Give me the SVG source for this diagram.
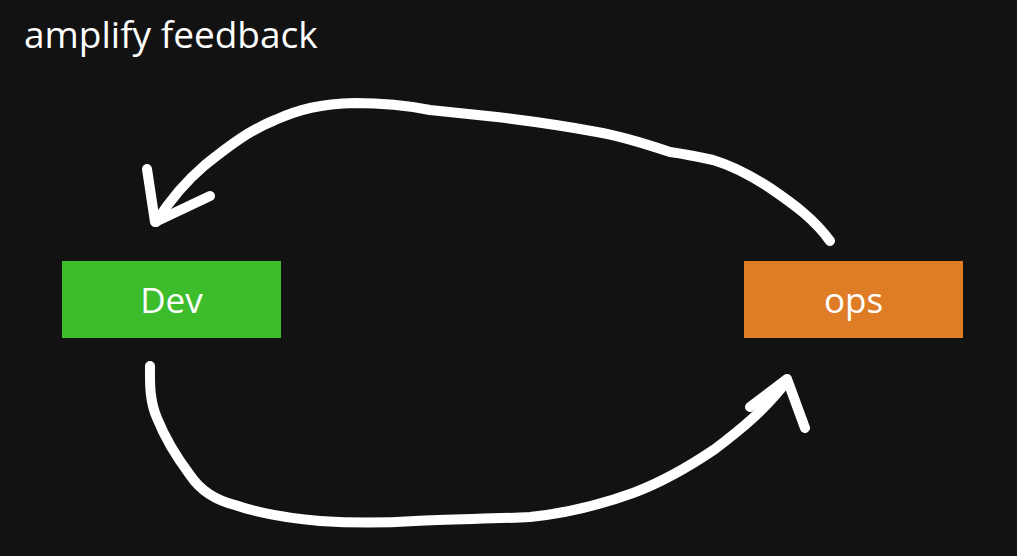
<svg xmlns="http://www.w3.org/2000/svg" width="1017" height="556" viewBox="0 0 1017 556">
<style>
.bg{fill:#121212}
.title{font-family:"Open Sans","Noto Sans",sans-serif;font-size:37px;fill:#ffffff}
.label{font-family:"Open Sans","Noto Sans",sans-serif;font-size:35px;fill:#ffffff;text-anchor:middle}
.stroke{fill:none;stroke:#ffffff;stroke-width:10;stroke-linecap:round;stroke-linejoin:round}
</style>
<rect class="bg" x="0" y="0" width="1017" height="556"/>
<text class="title" x="24" y="48">amplify feedback</text>
<g id="connectors">
<g id="ops-to-dev">
<path class="stroke" d="M830,241 C815,220 795,205 770,188 C750,175 730,165 713,160 C695,156 685,154 670,152 C640,142 615,135 597,132 C560,125 530,121 497,117 C470,114 450,112 430,110 C400,104 380,103 355,103 C320,104 300,109 275,120 C250,130 230,145 205,165 C185,182 170,200 156,222"/>
<path class="stroke" d="M147,169 L155,222 L210,196"/>
</g>
<g id="dev-to-ops">
<path class="stroke" d="M150,366 C150,380 149,400 157,418 C165,438 175,455 190,475 C200,490 215,500 235,505 C255,512 285,518 320,521 C350,523 385,523 415,521 C450,519 490,519 530,517 C570,513 600,505 633,493 C665,481 690,466 715,449 C740,430 765,410 787,381"/>
<path class="stroke" d="M750,407 L787,379 L805,428"/>
</g>
</g>
<g id="node-dev">
<rect x="62" y="261" width="219" height="77" fill="#3dbd2b"/>
<text class="label" x="171.5" y="313">Dev</text>
</g>
<g id="node-ops">
<rect x="744" y="261" width="219" height="77" fill="#df7c26"/>
<text class="label" x="853.5" y="313">ops</text>
</g>
</svg>
